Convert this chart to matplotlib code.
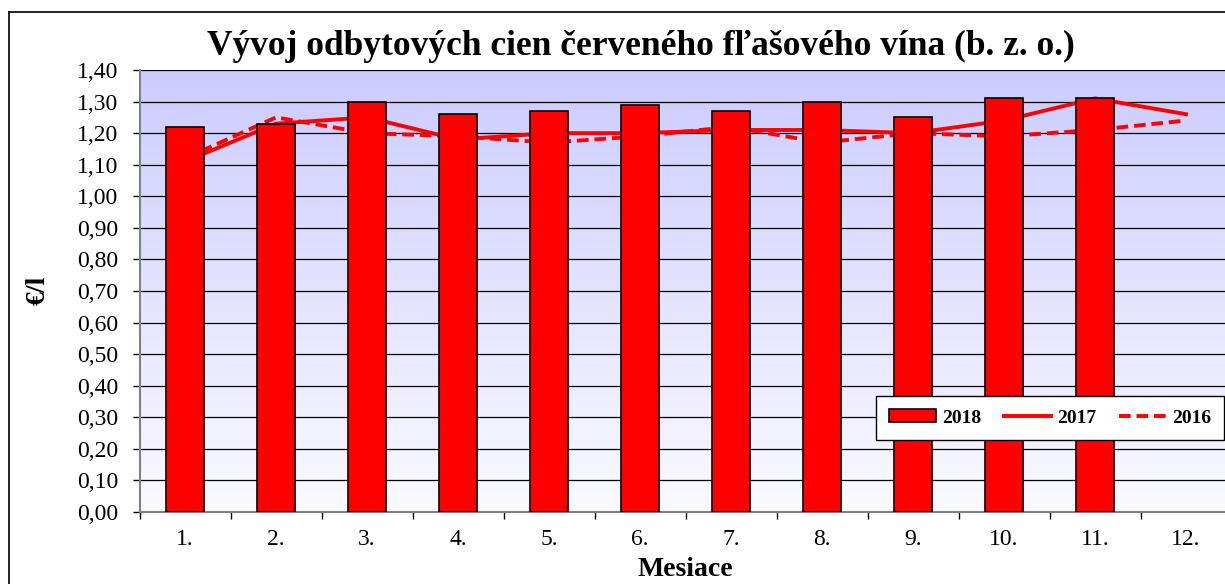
import numpy as np
import matplotlib
matplotlib.use("Agg")
import matplotlib.pyplot as plt
from matplotlib.lines import Line2D

# ---------------- data ----------------
months = ["1.", "2.", "3.", "4.", "5.", "6.", "7.", "8.", "9.", "10.", "11.", "12."]
val_2018 = [1.22, 1.23, 1.30, 1.26, 1.27, 1.29, 1.27, 1.30, 1.25, 1.31, 1.31, np.nan]
val_2017 = [1.11, 1.23, 1.25, 1.18, 1.20, 1.20, 1.21, 1.21, 1.20, 1.24, 1.31, 1.26]
val_2016 = [1.12, 1.25, 1.20, 1.19, 1.17, 1.19, 1.22, 1.17, 1.20, 1.19, 1.21, 1.24]
yticks = [round(0.1 * i, 2) for i in range(15)]

plt.rcParams['font.family'] = ['Liberation Serif', 'DejaVu Serif']

W, H = 1225, 584
fig = plt.figure(figsize=(W / 100, H / 100), dpi=100)
fig.patch.set_facecolor('white')

# outer frame (left + top visible, rest cut off)
fig.add_artist(Line2D([9 / W, 9 / W], [0, 1 - 12 / H], color='black', lw=1.2))
fig.add_artist(Line2D([9 / W, 1], [1 - 12 / H, 1 - 12 / H], color='black', lw=1.2))

ax = fig.add_axes([139.5 / W, (H - 512) / H, 1092 / W, 442 / H])
x = np.arange(1, len(months) + 1)

# gradient background
grad = np.linspace(0, 1, 256).reshape(-1, 1)
top = np.array([204, 204, 255]) / 255
bot = np.array([250, 250, 255]) / 255
img = bot + (top - bot) * grad
img = img.reshape(256, 1, 3)
ax.imshow(img, extent=[0.5, 12.5, 0, 1.4], origin='lower', aspect='auto', zorder=0)

for yv in yticks:
    ax.axhline(yv, color='black', lw=0.9, zorder=1)

ax.plot(x, val_2017, color='red', lw=2.8, zorder=2, label='2017')
ax.plot(x, val_2016, color='red', lw=2.8, ls=(0, (3, 1.5)), zorder=2, label='2016')
ax.bar(x, val_2018, width=0.41, color='red', edgecolor='black', lw=1.2, zorder=3, label='2018')

ax.set_xlim(0.5, 12.5)
ax.set_ylim(0, 1.4)

for s in ['top', 'right']:
    ax.spines[s].set_visible(False)
for s in ['left', 'bottom']:
    ax.spines[s].set_color('#808080')
    ax.spines[s].set_linewidth(1.5)

ax.set_yticks(yticks)
ax.set_yticklabels([f"{v:.2f}".replace('.', ',') for v in yticks], fontsize=17)
ax.tick_params(axis='y', length=5, width=1, pad=10, colors='black')

ax.set_xticks(np.arange(0.5, 13.0, 1.0))
ax.set_xticklabels([])
ax.tick_params(axis='x', which='major', length=5, width=1, direction='out')
ax.set_xticks(x, minor=True)
ax.set_xticklabels(months, minor=True, fontsize=17)
ax.tick_params(axis='x', which='minor', length=0, pad=12)

fig.text(641 / W, 1 - 46 / H, "Vývoj odbytových cien červeného fľašového vína (b. z. o.)",
         ha='center', va='center', fontsize=25.5, fontweight='bold')
fig.text(685 / W, 1 - 569 / H, "Mesiace", ha='center', va='center', fontsize=20, fontweight='bold')
fig.text(38 / W, 1 - 290 / H, "€/l", ha='center', va='center', fontsize=20,
         fontweight='bold', rotation=90)

h, l = ax.get_legend_handles_labels()
order = [2, 0, 1]
leg = fig.legend([h[i] for i in order], [l[i] for i in order], ncol=3,
                 loc='center', bbox_to_anchor=(1050 / W, 1 - 418 / H),
                 prop={'weight': 'bold', 'size': 14}, frameon=True, fancybox=False,
                 edgecolor='black', framealpha=1, handlelength=2.4, handleheight=0.6,
                 columnspacing=1.2, handletextpad=0.3, borderpad=0.7)
leg.get_frame().set_linewidth(1.0)

fig.savefig("out.png", dpi=100)
